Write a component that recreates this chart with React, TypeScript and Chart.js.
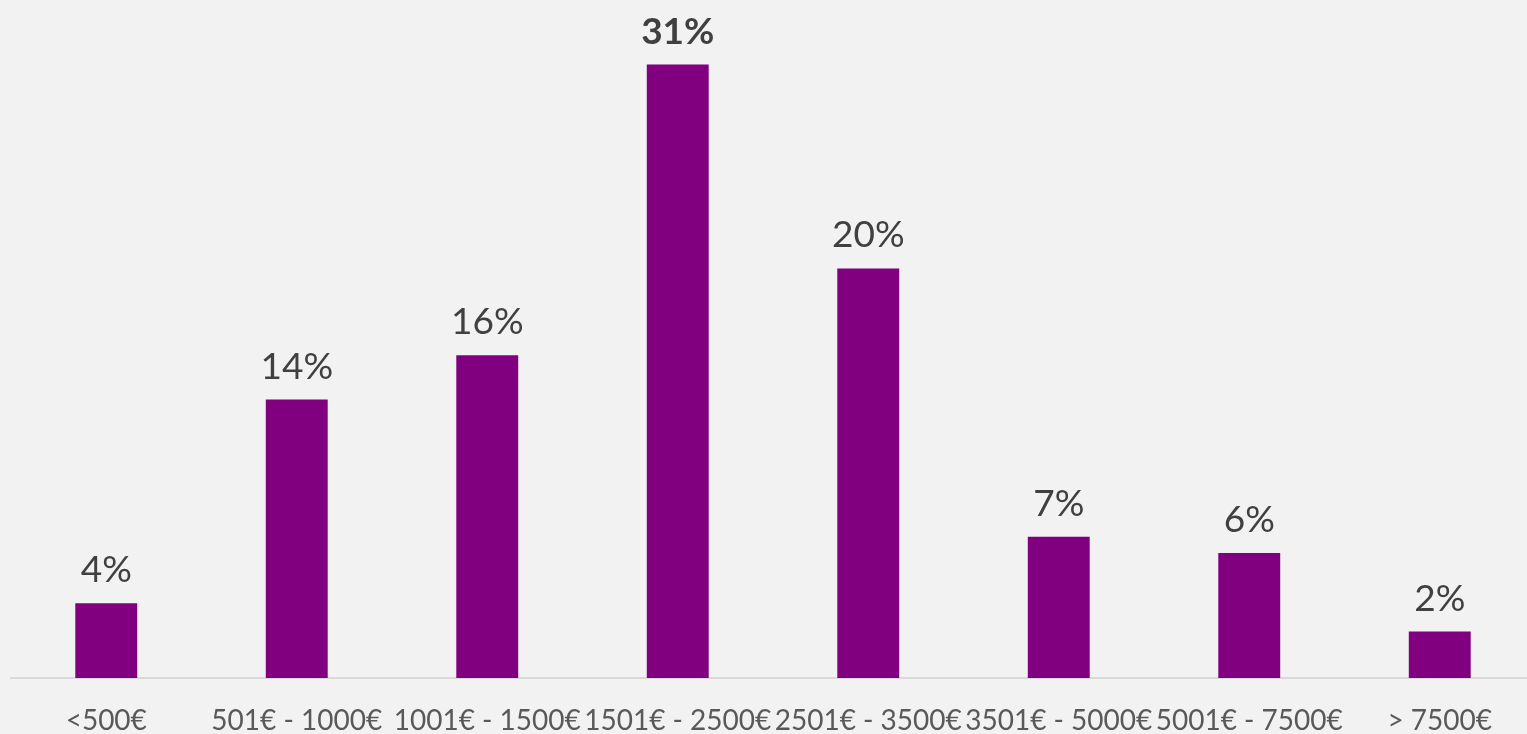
import React, { useEffect, useRef } from "react";
import { Chart, registerables } from "chart.js";

Chart.register(...registerables);

const categories = [
  "<500€",
  "501€ - 1000€",
  "1001€ - 1500€",
  "1501€ - 2500€",
  "2501€ - 3500€",
  "3501€ - 5000€",
  "5001€ - 7500€",
  "> 7500€",
];
const shares = [3.7, 13.8, 16.0, 30.4, 20.3, 7.0, 6.2, 2.3];
const shareLabels = ["4%", "14%", "16%", "31%", "20%", "7%", "6%", "2%"];
const boldIndex = 3;

const labelPlugin = {
  id: "barLabels",
  afterDatasetsDraw(chart: any) {
    const ctx = chart.ctx;
    const meta = chart.getDatasetMeta(0);
    ctx.save();
    ctx.textAlign = "center";
    ctx.textBaseline = "alphabetic";
    ctx.fillStyle = "#404040";
    meta.data.forEach((bar: any, i: number) => {
      ctx.font = `${i === boldIndex ? "bold " : ""}37px Lato, "Open Sans", sans-serif`;
      ctx.fillText(shareLabels[i], bar.x, bar.y - 21);
    });
    ctx.restore();
  },
};

export default function App() {
  const ref = useRef<HTMLCanvasElement | null>(null);
  useEffect(() => {
    document.body.style.margin = "0";
    document.body.style.background = "#F2F2F2";
    document.body.style.overflow = "hidden";
    const chart = new Chart(ref.current!, {
      type: "bar",
      data: {
        labels: categories,
        datasets: [
          {
            data: shares,
            backgroundColor: "#800080",
            barPercentage: 0.325,
            categoryPercentage: 1,
          },
        ],
      },
      options: {
        animation: false,
        responsive: true,
        maintainAspectRatio: false,
        layout: { padding: { left: 11, right: 0, top: 0, bottom: 0 } },
        plugins: { legend: { display: false }, tooltip: { enabled: false } },
        scales: {
          x: {
            grid: { display: false, drawTicks: false },
            border: { display: true, color: "#D9D9D9", width: 2 },
            ticks: {
              color: "#595959",
              font: { family: "Lato, 'Open Sans', sans-serif", size: 28 },
              padding: 26,
              maxRotation: 0,
              autoSkip: false,
            },
            afterFit: (scale: any) => {
              scale.height = 56;
            },
          },
          y: { display: false, min: 0, max: 33.6 },
        },
      },
      plugins: [labelPlugin],
    });
    return () => chart.destroy();
  }, []);
  return (
    <div
      style={{
        position: "absolute",
        left: 0,
        top: 0,
        width: 1535,
        height: 734,
        background: "#F2F2F2",
      }}
    >
      <canvas ref={ref} />
    </div>
  );
}
